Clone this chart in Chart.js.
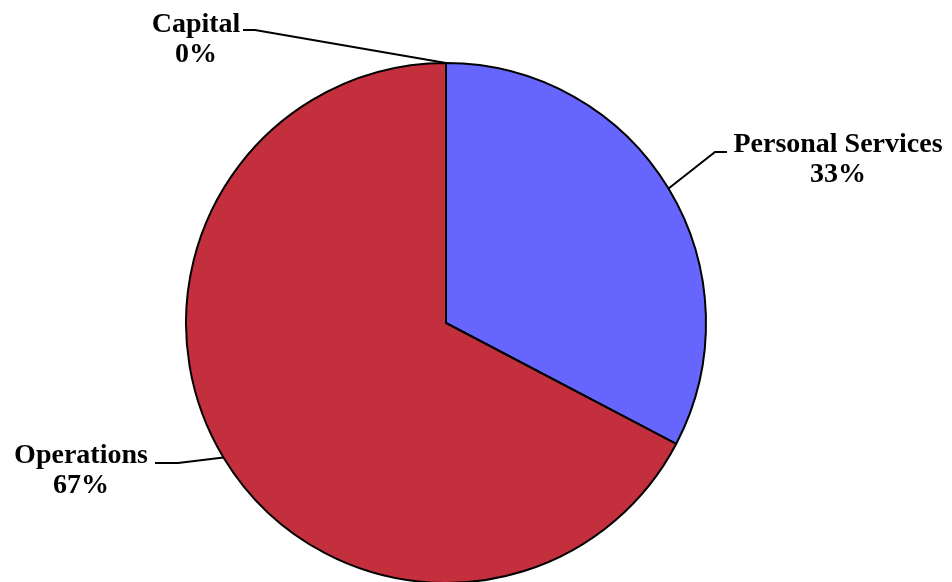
<!DOCTYPE html>
<html lang="en">
<head>
  <meta charset="UTF-8">
  <title>Budget Split</title>
  <script src="https://cdn.jsdelivr.net/npm/chart.js@4.4.1/dist/chart.umd.min.js"></script>
  <style>
    html, body { margin: 0; padding: 0; background: #fff; overflow: hidden; }
    .chart-container { width: 952px; height: 584px; position: relative; }
  </style>
</head>
<body>
<div class="chart-container">
  <canvas id="pie"></canvas>
</div>
<script>
  const categories = ['Personal Services', 'Operations', 'Capital'];
  const shares = [32.7, 67.3, 0];
  const sliceColors = ['#6666FF', '#C42F3D', '#6666FF'];

  // label text centre + first baseline, and the little horizontal bar of the leader
  const labelLayout = [
    { x: 838, y: 152, barFrom: 715, barTo: 727, barY: 152 },
    { x: 81, y: 463, barFrom: 155, barTo: 178, barY: 463 },
    { x: 196, y: 32, barFrom: 243, barTo: 255, barY: 30 }
  ];

  const leaderLabels = {
    id: 'leaderLabels',
    afterDatasetsDraw(chart) {
      const ctx = chart.ctx;
      const meta = chart.getDatasetMeta(0);
      const total = shares.reduce((a, b) => a + b, 0);
      ctx.save();
      meta.data.forEach((arc, i) => {
        const p = arc.getProps(['x', 'y', 'startAngle', 'endAngle', 'outerRadius'], true);
        const mid = (p.startAngle + p.endAngle) / 2;
        const ax = p.x + Math.cos(mid) * p.outerRadius;
        const ay = p.y + Math.sin(mid) * p.outerRadius;
        const lay = labelLayout[i];
        // elbow is the bar end closest to the pie
        const elbowX = Math.abs(lay.barFrom - ax) < Math.abs(lay.barTo - ax) ? lay.barFrom : lay.barTo;
        const otherX = elbowX === lay.barFrom ? lay.barTo : lay.barFrom;

        ctx.strokeStyle = '#000';
        ctx.lineWidth = 2;
        ctx.beginPath();
        ctx.moveTo(otherX, lay.barY);
        ctx.lineTo(elbowX, lay.barY);
        ctx.lineTo(ax, ay);
        ctx.stroke();

        ctx.fillStyle = '#000';
        ctx.font = 'bold 28px "Liberation Serif"';
        ctx.textAlign = 'center';
        ctx.textBaseline = 'alphabetic';
        ctx.fillText(categories[i], lay.x, lay.y);
        ctx.fillText(Math.round(shares[i] / total * 100) + '%', lay.x, lay.y + 30);
      });
      ctx.restore();
    }
  };

  new Chart(document.getElementById('pie'), {
    type: 'pie',
    data: {
      labels: categories,
      datasets: [{
        data: shares,
        backgroundColor: sliceColors,
        borderColor: '#000',
        borderWidth: 2
      }]
    },
    options: {
      responsive: true,
      maintainAspectRatio: false,
      animation: false,
      layout: { padding: { top: 62, bottom: 0, left: 0, right: 60 } },
      plugins: {
        legend: { display: false },
        tooltip: { enabled: false }
      }
    },
    plugins: [leaderLabels]
  });
</script>
</body>
</html>
